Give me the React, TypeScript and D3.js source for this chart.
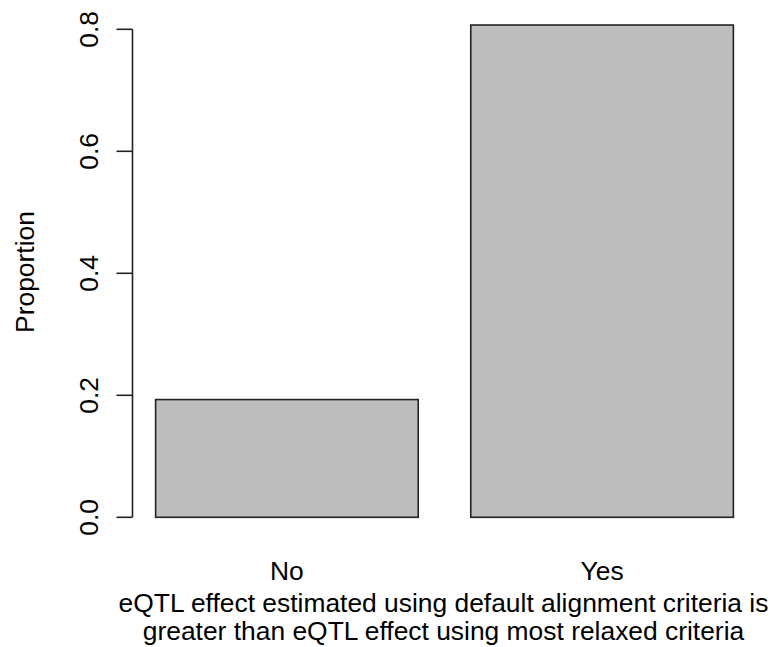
import React from "react";
import * as d3 from "d3";

const categories = ["No", "Yes"];
const proportions = [0.193, 0.807];
const yTicks = [0, 0.2, 0.4, 0.6, 0.8];
const yLabel = "Proportion";
const xTitle = [
  "eQTL effect estimated using default alignment criteria is",
  "greater than eQTL effect using most relaxed criteria",
];

export default function App() {
  const width = 774;
  const height = 647;
  const font = "'Liberation Sans', Arial, Helvetica, sans-serif";
  const fontSize = 26.4;

  // barplot units: width 1, space 0.2, range padded by 4% like R
  const x = d3.scaleLinear().domain([0.112, 2.488]).range([132.5, 756.5]);
  const y = d3.scaleLinear().domain([0, 0.8]).range([517.3, 29.3]);
  const axisX = x(0.112);

  const bars = categories.map((c, i) => ({
    name: c,
    x0: x(0.2 + 1.2 * i),
    x1: x(1.2 + 1.2 * i),
    value: proportions[i],
  }));

  return (
    <svg
      width={width}
      height={height}
      style={{ position: "absolute", left: 0, top: 0, background: "#fff" }}
      fontFamily={font}
      fontSize={fontSize}
    >
      {bars.map((b) => (
        <rect
          key={b.name}
          x={b.x0}
          y={y(b.value)}
          width={b.x1 - b.x0}
          height={y(0) - y(b.value)}
          fill="#bebebe"
          stroke="#222"
          strokeWidth={1.6}
        />
      ))}

      {/* y axis */}
      <line x1={axisX} x2={axisX} y1={y(0)} y2={y(0.8)} stroke="#222" strokeWidth={1.6} />
      {yTicks.map((t) => (
        <g key={t}>
          <line x1={axisX - 16} x2={axisX} y1={y(t)} y2={y(t)} stroke="#222" strokeWidth={1.6} />
          <text
            transform={`translate(98,${y(t)}) rotate(-90)`}
            textAnchor="middle"
            fill="#000"
          >
            {t.toFixed(1)}
          </text>
        </g>
      ))}
      <text transform={`translate(34,272) rotate(-90)`} textAnchor="middle" fill="#000">
        {yLabel}
      </text>

      {/* category names */}
      {bars.map((b) => (
        <text key={b.name} x={(b.x0 + b.x1) / 2} y={580} textAnchor="middle" fill="#000">
          {b.name}
        </text>
      ))}

      {xTitle.map((line, i) => (
        <text key={i} x={(x(0.112) + x(2.488)) / 2 - 1} y={611.5 + i * 28.5} textAnchor="middle" fill="#000">
          {line}
        </text>
      ))}
    </svg>
  );
}
